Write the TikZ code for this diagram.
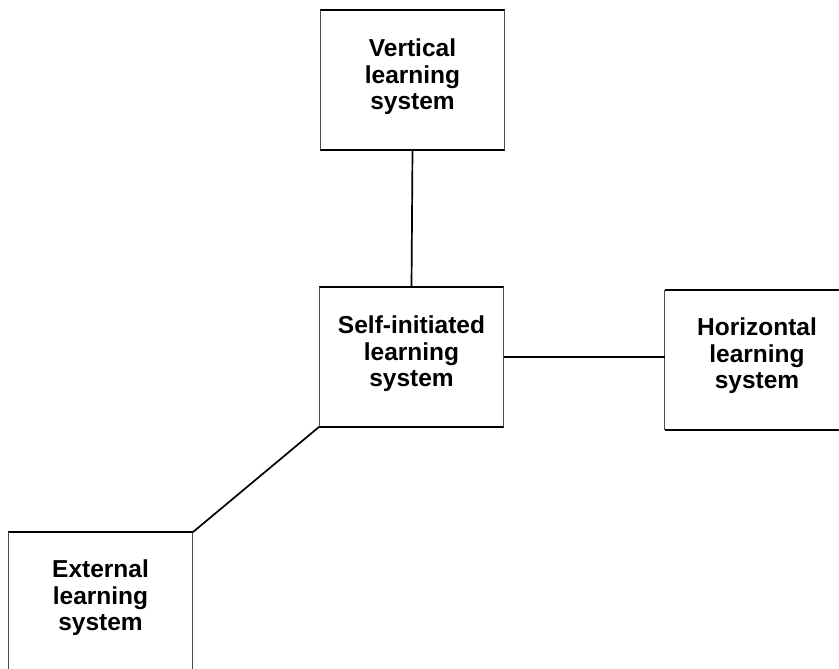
\documentclass[tikz,border=0pt]{standalone}
\usepackage{fontspec}
\setmainfont{Liberation Sans}
\begin{document}
\begin{tikzpicture}[x=1pt,y=-1pt,
  sysbox/.style={minimum width=184pt, minimum height=139pt, inner sep=0pt, draw=none},
  systext/.style={align=center, inner sep=0pt, font=\fontsize{24.5}{26.5}\selectfont\bfseries},
  rimline/.style={line width=1.9pt, black},
  sideline/.style={line width=1.1pt, black!70},
  link/.style={line width=1.7pt, black}]
  \fill[white] (0,0) rectangle (839,669);
  \useasboundingbox (0,0) rectangle (839,669);
  \clip (0,0) rectangle (839,669);

  % the four learning systems
  \node[sysbox] (vert) at (412.5,80) {};
  \node[sysbox] (self) at (411.5,357) {};
  \node[sysbox] (hor)  at (757,360) {};
  \node[sysbox] (ext)  at (100.5,602) {};

  % labels sit a little above the middle of each box
  \node[systext] (vertT) at ([yshift=3pt]vert.center) {Vertical\\learning\\system};
  \node[systext] (selfT) at ([yshift=3pt]self.center) {Self-initiated\\learning\\system};
  \node[systext] (horT)  at ([yshift=4pt]hor.center)  {Horizontal\\learning\\system};
  \node[systext] (extT)  at ([yshift=4pt]ext.center)  {External\\learning\\system};

  % box outlines: heavy top and bottom rims, lighter sides
  \foreach \b in {vert,self,hor,ext}{
    \draw[rimline] (\b.north west) -- (\b.north east);
    \draw[rimline] (\b.south west) -- (\b.south east);
    \draw[sideline] (\b.north west) -- (\b.south west);
    \draw[sideline] (\b.north east) -- (\b.south east);
  }

  % connections to the central system
  \draw[link] (vert.south) -- (self.north);
  \draw[link] (self.east) -- (self.east -| hor.west);
  \draw[link] (self.south west) -- (ext.north east);
\end{tikzpicture}
\end{document}
